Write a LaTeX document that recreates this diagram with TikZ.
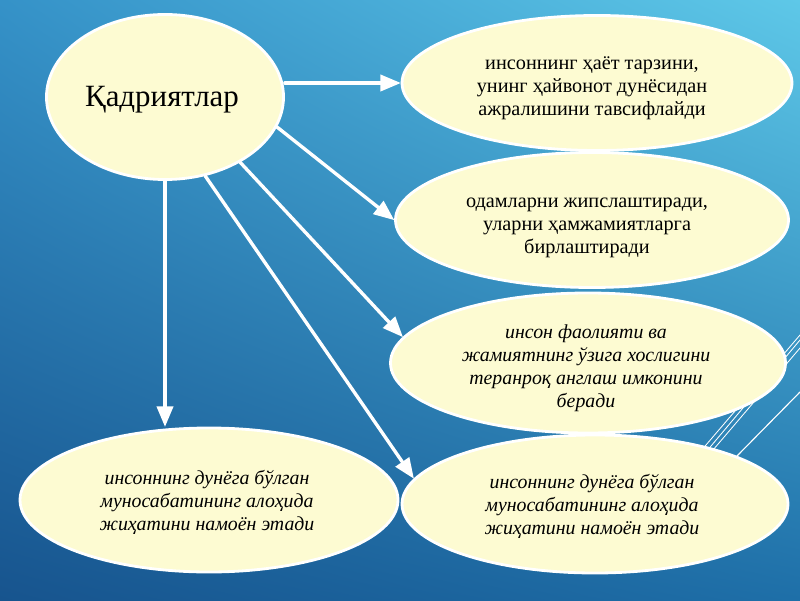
\documentclass[tikz,border=0pt]{standalone}
\usepackage{fontspec}
\setmainfont{Liberation Serif}
\usepackage{tikz}
\usetikzlibrary{arrows,shapes.geometric,shadings}
\definecolor{bgul}{HTML}{3592C8}
\definecolor{bgur}{HTML}{5EC8E8}
\definecolor{bgll}{HTML}{17548E}
\definecolor{bglr}{HTML}{1E6FA8}
\definecolor{ideafill}{HTML}{FDFBD2}
\newcommand{\pxu}{0.025cm}

\begin{document}
\begin{tikzpicture}[x=0.025cm,y=0.025cm,line cap=round,line join=round,>=triangle 45,
  idea/.style={ellipse,draw=white,line width=2pt,fill=ideafill,inner sep=0pt},
  ideatext/.style={inner sep=0pt,text=black,align=center,font=\fontsize{14.4}{16.3}\selectfont},
  ideaital/.style={ideatext,font=\fontsize{14.1}{16.3}\selectfont\itshape},
  conn/.style={->,draw=white,line width=2.4pt}]
\useasboundingbox (0,0) rectangle (800,600);
\shade[upper left=bgul,upper right=bgur,lower left=bgll,lower right=bglr] (0,0) rectangle (800,600);
% thin lines at the right edge
\draw[white,line width=0.6pt] (700,148) -- (800,265);
\draw[white,line width=0.6pt] (706,148) -- (800,260);
\draw[white,line width=0.6pt] (713,150) -- (800,252);
\draw[white,line width=0.8pt] (737,144) -- (800,208);
% ellipses
\node[idea,minimum width=237*\pxu,minimum height=165*\pxu] (values) at (165,503) {};
\node[idea,minimum width=390*\pxu,minimum height=135*\pxu] (lifestyle) at (597,517) {};
\node[idea,minimum width=393*\pxu,minimum height=135*\pxu] (unite) at (592,380) {};
\node[idea,minimum width=395*\pxu,minimum height=140*\pxu] (society) at (588,237) {};
\node[idea,minimum width=386*\pxu,minimum height=138*\pxu] (worldR) at (595,96) {};
\node[idea,minimum width=378*\pxu,minimum height=144*\pxu] (worldL) at (209,100) {};
% texts
\node[ideatext,font=\fontsize{22}{24}\selectfont] (values-t) at (162,500) {Қадриятлар};
\node[ideatext] (lifestyle-t) at (592,512)
  {инсоннинг ҳаёт тарзини,\\унинг ҳайвонот дунёсидан\\ ажралишини тавсифлайди};
\node[ideatext] (unite-t) at (587,372)
  {одамларни жипслаштиради,\\уларни ҳамжамиятларга\\бирлаштиради};
\node[ideaital] (society-t) at (586,232)
  {инсон фаолияти ва\\жамиятнинг ўзига хослигини\\теранроқ англаш имконини\\беради};
\node[ideaital] (worldR-t) at (592,94)
  {инсоннинг дунёга бўлган\\муносабатининг алоҳида\\жиҳатини намоён этади};
\node[ideaital] (worldL-t) at (207,98)
  {инсоннинг дунёга бўлган\\муносабатининг алоҳида\\жиҳатини намоён этади};
% arrows
\draw[conn] (values.east |- lifestyle.west) -- (lifestyle.west);
\draw[conn] (values.-15) -- (unite.west);
\draw[conn] (values.-41) -- (society.172);
\draw[conn] (values.-63) -- (worldR.172);
\draw[conn] (values.south) -- (values.south |- worldL.north);
\end{tikzpicture}
\end{document}
